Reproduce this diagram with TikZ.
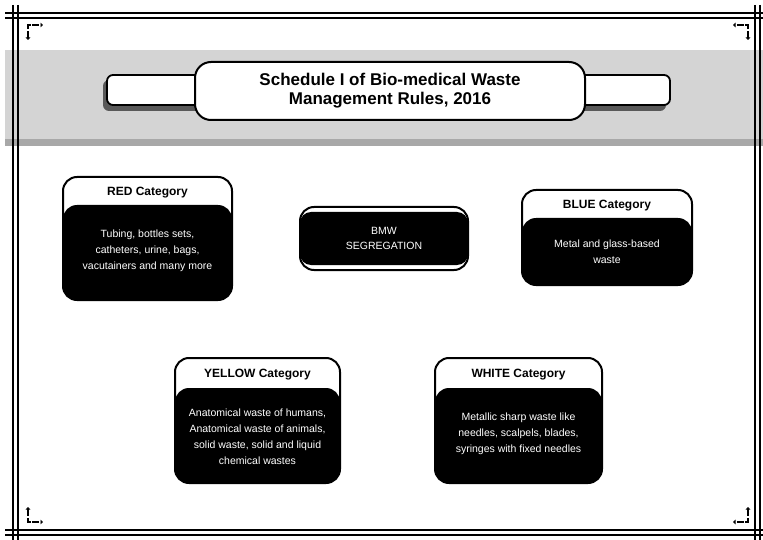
\documentclass[tikz,border=0pt]{standalone}
\usepackage{fontspec}
\setmainfont{Liberation Sans}
\usetikzlibrary{arrows.meta}
\tikzset{
  frameline/.style={line width=1.4pt},
  boxborder/.style={line width=2pt, rounded corners=14pt},
  headtext/.style={font=\bfseries\fontsize{12}{14}\selectfont, text=black, inner sep=0pt},
  bodytext/.style={font=\fontsize{10.5}{16}\selectfont, text=white, align=center, inner sep=0pt},
  cornermark/.style={line width=2.8pt, dash pattern=on 7pt off 1.5pt,
     {Triangle[length=2.5pt,width=4.5pt]}-{Triangle[length=2.5pt,width=4.5pt]}},
}
\newcommand\wastebox[9]{%
  \fill[rounded corners=14pt] (#2,#6) rectangle (#4,#5);
  \draw[boxborder] (#2,#3) rectangle (#4,#5);
  \node[headtext] (#1head) at ({(#2+#4)/2},{(#3+#6)/2+2}) {#7};
  \node[bodytext] (#1body) at ({(#2+#4)/2},{(#6+#5)/2+#9}) {#8};
}
\begin{document}
\begin{tikzpicture}[x=1pt,y=-1pt]
\useasboundingbox (0,0) rectangle (763,540);
% band
\fill[black!17] (5,50) rectangle (763,139);
\fill[black!34] (5,139) rectangle (763,146);
% frame
\draw[frameline] (5,13) -- (763,13);
\draw[frameline] (5,18) -- (763,18);
\draw[frameline] (5,530) -- (763,530);
\draw[frameline] (5,535) -- (763,535);
\draw[frameline] (13,5) -- (13,540);
\draw[frameline] (18,5) -- (18,540);
\draw[frameline] (755,5) -- (755,540);
\draw[frameline] (760,5) -- (760,540);
% corner marks
\draw[cornermark] (28,40) -- (28,25) -- (43,25);
\draw[cornermark] (748,40) -- (748,25) -- (733,25);
\draw[cornermark] (28,507) -- (28,522) -- (43,522);
\draw[cornermark] (748,507) -- (748,522) -- (733,522);
% title
\fill[black!65, rounded corners=6pt] (103,80) rectangle (666,111);
\draw[fill=white, line width=1.8pt, rounded corners=6pt] (107,75) rectangle (670,105);
\node[draw, fill=white, line width=2pt, rounded corners=16pt, minimum width=390pt,
  minimum height=58pt, align=center, font=\bfseries\fontsize{17}{19}\selectfont]
  (title) at (390,91) {Schedule I of Bio-medical Waste\\Management Rules, 2016};
% BMW
\fill[rounded corners=11pt] (300,212) rectangle (468,265);
\draw[boxborder] (300,207) rectangle (468,270);
\node[bodytext, font=\fontsize{10.5}{15}\selectfont] (bmw) at (384,238) {BMW\\SEGREGATION};
% categories
\wastebox{red}{63}{177}{232}{300}{205}{RED Category}{Tubing, bottles sets,\\catheters, urine, bags,\\vacutainers and many more}{-2}
\wastebox{blue}{522}{190}{692}{285}{218}{BLUE Category}{Metal and glass-based\\waste}{0}
\wastebox{yellow}{175}{358}{340}{483}{388}{YELLOW Category}{Anatomical waste of humans,\\Anatomical waste of animals,\\solid waste, solid and liquid\\chemical wastes}{1}
\wastebox{white}{435}{358}{602}{483}{388}{WHITE Category}{Metallic sharp waste like\\needles, scalpels, blades,\\syringes with fixed needles}{-2}
\end{tikzpicture}
\end{document}
